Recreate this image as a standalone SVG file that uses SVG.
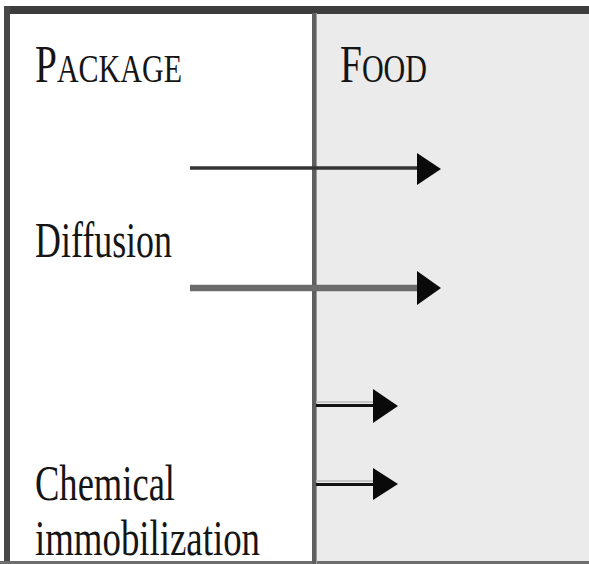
<svg xmlns="http://www.w3.org/2000/svg" width="589" height="564" viewBox="0 0 589 564">
<style>
.t{font-family:"Liberation Serif","Times New Roman",serif;fill:#151515}
.b{font-size:36.5px}
.hd{font-size:38px}
.sc{font-size:29px}
.arrowhead{fill:#0a0a0a}
</style>
<rect x="0" y="0" width="589" height="564" fill="#ffffff"/>
<g id="food-region">
<rect x="315" y="13" width="274" height="549" fill="#ebebeb"/>
</g>
<g id="frame">
<rect x="4" y="6" width="585" height="8" fill="#3d3d3d"/>
<rect x="4" y="6" width="6" height="558" fill="#474747"/>
<rect x="0" y="561" width="589" height="3" fill="#6e6e6e"/>
<rect x="312" y="13" width="4" height="551" fill="#5f5f5f"/>
<rect x="316" y="13" width="1" height="551" fill="#9a9a9a"/>
</g>
<g id="package-label">
<text class="t hd" transform="translate(35,82) scale(1,1.4)" textLength="147" lengthAdjust="spacingAndGlyphs">P<tspan class="sc">ACKAGE</tspan></text>
</g>
<g id="food-label">
<text class="t hd" transform="translate(340,82) scale(1,1.4)" textLength="87" lengthAdjust="spacingAndGlyphs">F<tspan class="sc">OOD</tspan></text>
</g>
<g id="diffusion">
<text class="t b" transform="translate(35,257) scale(1,1.4)" textLength="137" lengthAdjust="spacingAndGlyphs">Diffusion</text>
</g>
<g id="chemical-immobilization">
<text class="t b" transform="translate(35,500) scale(1,1.4)" textLength="140" lengthAdjust="spacingAndGlyphs">Chemical</text>
<text class="t b" transform="translate(35,555) scale(1,1.36)" textLength="225" lengthAdjust="spacingAndGlyphs">immobilization</text>
</g>
<g id="connectors">
<line x1="190" y1="168" x2="419" y2="168" stroke="#343434" stroke-width="3.5"/>
<polygon class="arrowhead" points="417,153 441,169 417,185"/>
<line x1="190" y1="288" x2="419" y2="288" stroke="#6b6b6b" stroke-width="6.5"/>
<polygon class="arrowhead" points="417,271 441,288 417,305"/>
<line x1="316" y1="402" x2="375" y2="402" stroke="#c4c4c4" stroke-width="2"/>
<line x1="316" y1="405.5" x2="375" y2="405.5" stroke="#111" stroke-width="3"/>
<polygon class="arrowhead" points="373,389 398,406 373,423"/>
<line x1="316" y1="481" x2="375" y2="481" stroke="#c4c4c4" stroke-width="2"/>
<line x1="316" y1="484.5" x2="375" y2="484.5" stroke="#111" stroke-width="3"/>
<polygon class="arrowhead" points="373,468 398,484 373,500"/>
</g>
</svg>
